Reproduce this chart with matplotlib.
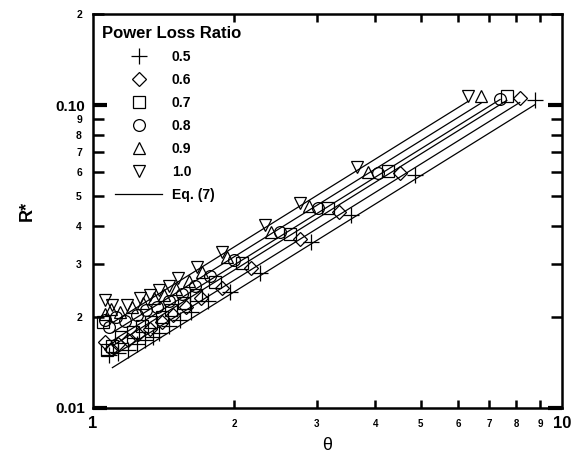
import matplotlib
matplotlib.use("Agg")
import matplotlib.pyplot as plt
import numpy as np
from matplotlib.lines import Line2D
from matplotlib.ticker import FixedLocator, FixedFormatter

plt.rcParams['font.family'] = ['Liberation Sans', 'DejaVu Sans']

# ---------------- data ----------------
ratios = ['0.5', '0.6', '0.7', '0.8', '0.9', '1.0']

theta_05 = [1.08, 1.13, 1.19, 1.24, 1.29, 1.34, 1.38, 1.45, 1.53, 1.62, 1.76, 1.96, 2.27, 2.92, 3.55, 4.86, 8.76]
r_05 = [0.0150, 0.0152, 0.0155, 0.0163, 0.0168, 0.0172, 0.0177, 0.0186, 0.0196, 0.0208, 0.0226, 0.0242, 0.0279, 0.0354, 0.0435, 0.0589, 0.104]

theta_06 = [1.06, 1.09, 1.13, 1.19, 1.25, 1.32, 1.40, 1.48, 1.58, 1.70, 1.88, 2.17, 2.76, 3.35, 4.51, 8.13]
r_06 = [0.0165, 0.0157, 0.0163, 0.0168, 0.0176, 0.0183, 0.0192, 0.0203, 0.0215, 0.0230, 0.0249, 0.0290, 0.0362, 0.0444, 0.0598, 0.1056]

theta_07 = [1.05, 1.07, 1.10, 1.15, 1.22, 1.27, 1.33, 1.40, 1.47, 1.56, 1.66, 1.82, 2.08, 2.63, 3.17, 4.25, 7.63]
r_07 = [0.0192, 0.0155, 0.0160, 0.0172, 0.0178, 0.0186, 0.0193, 0.0200, 0.0210, 0.0222, 0.0236, 0.0261, 0.0302, 0.0376, 0.0458, 0.0606, 0.107]

theta_08 = [1.06, 1.08, 1.12, 1.17, 1.24, 1.30, 1.37, 1.45, 1.55, 1.65, 1.78, 2.00, 2.50, 3.02, 4.05, 7.38]
r_08 = [0.0196, 0.0185, 0.0200, 0.0194, 0.0203, 0.0210, 0.0216, 0.0225, 0.0238, 0.0252, 0.0273, 0.0308, 0.0381, 0.0458, 0.0598, 0.105]

theta_09 = [1.06, 1.09, 1.14, 1.21, 1.28, 1.35, 1.42, 1.50, 1.60, 1.71, 1.93, 2.40, 2.89, 3.86, 6.72]
r_09 = [0.0205, 0.0212, 0.0208, 0.0215, 0.0222, 0.0230, 0.0237, 0.0248, 0.0262, 0.0282, 0.0316, 0.0381, 0.0465, 0.0603, 0.107]

theta_10 = [1.06, 1.10, 1.18, 1.26, 1.32, 1.38, 1.45, 1.52, 1.67, 1.88, 2.33, 2.76, 3.66, 6.30]
r_10 = [0.0228, 0.0219, 0.0219, 0.0231, 0.0236, 0.0245, 0.0253, 0.0269, 0.0292, 0.0328, 0.0402, 0.0475, 0.0625, 0.107]

# Eq. (7): R* = c * theta^b, per ratio
eq_coef = [0.0124, 0.01355, 0.01463, 0.01521, 0.01619, 0.01745]
eq_exp = [0.964, 0.964, 0.964, 0.964, 0.964, 0.964]
eq_theta_start = [1.10, 1.10, 1.10, 1.10, 1.10, 1.10]

series_theta = [theta_05, theta_06, theta_07, theta_08, theta_09, theta_10]
series_r = [r_05, r_06, r_07, r_08, r_09, r_10]

y_major = [0.01, 0.1]
y_major_labels = ['0.01', '0.10']
y_minor = [0.02, 0.03, 0.04, 0.05, 0.06, 0.07, 0.08, 0.09, 0.2]
y_minor_labels = ['2', '3', '4', '5', '6', '7', '8', '9', '2']
x_major = [1, 10]
x_major_labels = ['1', '10']
x_minor = [2, 3, 4, 5, 6, 7, 8, 9]
x_minor_labels = ['2', '3', '4', '5', '6', '7', '8', '9']

# ---------------- plot ----------------
markers = ['+', 'D', 's', 'o', '^', 'v']
msizes = [11, 7, 8, 8.5, 8.5, 8.5]

fig = plt.figure(figsize=(5.74, 4.55), dpi=100)
ax = fig.add_axes([0.162, 0.1033, 0.817, 0.8657])
ax.set_xscale('log')
ax.set_yscale('log')

for th, r, m, ms in zip(series_theta, series_r, markers, msizes):
    ax.plot(th, r, linestyle='none', marker=m, markersize=ms,
            markerfacecolor='none', markeredgecolor='black', markeredgewidth=0.9,
            zorder=3)

for c, b, t0, th in zip(eq_coef, eq_exp, eq_theta_start, series_theta):
    tt = np.array([t0, max(th)])
    ax.plot(tt, c * tt ** b, color='black', linewidth=0.9, zorder=2)

ax.set_xlim(1, 10)
ax.set_ylim(0.01, 0.2)

for s in ax.spines.values():
    s.set_linewidth(1.8)

ax.xaxis.set_major_locator(FixedLocator(x_major))
ax.xaxis.set_major_formatter(FixedFormatter(x_major_labels))
ax.xaxis.set_minor_locator(FixedLocator(x_minor))
ax.xaxis.set_minor_formatter(FixedFormatter(x_minor_labels))
ax.yaxis.set_major_locator(FixedLocator(y_major))
ax.yaxis.set_major_formatter(FixedFormatter(y_major_labels))
ax.yaxis.set_minor_locator(FixedLocator(y_minor))
ax.yaxis.set_minor_formatter(FixedFormatter(y_minor_labels))

ax.tick_params(axis='both', which='both', direction='in', top=True, right=True)
ax.tick_params(axis='x', which='major', length=0, labelsize=12, pad=6)
ax.tick_params(axis='x', which='minor', length=6, width=1.8, labelsize=7, pad=8)
ax.tick_params(axis='y', which='major', length=10, width=3, labelsize=11, pad=6)
ax.tick_params(axis='y', which='minor', length=8, width=1.8, labelsize=7.5, pad=8)
for lab in ax.get_xticklabels(which='both') + ax.get_yticklabels(which='both'):
    lab.set_fontweight('bold')

ax.set_xlabel('θ', fontsize=13, labelpad=4)
ax.set_ylabel('R*', fontsize=13, fontweight='bold', labelpad=14)

# legend
ax.text(0.019, 0.952, 'Power Loss Ratio', transform=ax.transAxes,
        fontsize=12, fontweight='bold', ha='left', va='center')
handles = [Line2D([], [], linestyle='none', marker=m, markersize=ms,
                  markerfacecolor='none', markeredgecolor='black', markeredgewidth=0.9)
           for m, ms in zip(markers, msizes)]
handles.append(Line2D([], [], color='black', linewidth=0.9))
labels = ratios + ['Eq. (7)']
leg = ax.legend(handles, labels, loc='upper left', bbox_to_anchor=(0.047, 0.908),
                frameon=False, prop={'weight': 'bold', 'size': 10},
                handlelength=3.4, handletextpad=0.7, labelspacing=0.64,
                borderaxespad=0.0, borderpad=0.0)

fig.savefig('out.png', dpi=100)
